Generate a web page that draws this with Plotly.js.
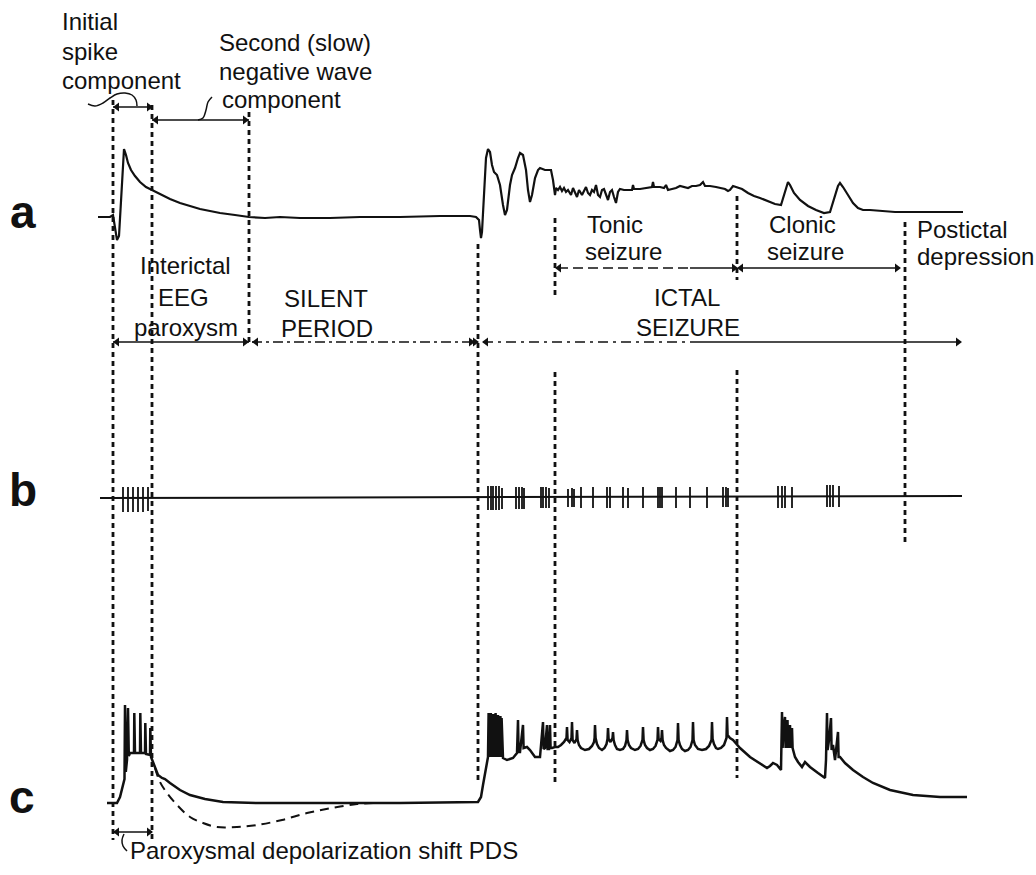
<!DOCTYPE html>
<html>
<head>
<meta charset="utf-8">
<script src="https://cdn.plot.ly/plotly-3.0.1.min.js"></script>
<style>html,body{margin:0;padding:0;background:#fff;}#chart{width:1036px;height:875px;}</style>
</head>
<body>
<div id="chart"></div>
<script>
// ---- Trace a (EEG) ----
const aX = [98,110,113,114,116,117,119,121,123,124,126,128,131,135,140,146,152,160,170,180,190,200,210,220,235,249,265,280,300,330,360,400,440,470,476,
479,480,481,482,484,486,488,490,492,494,497,500,503,505,507,510,512,515,518,520,523,526,528,530,532,535,538,540,545,551,553,555,556,558,560,562,564,566,568,571,573,575,577,579,582,584,586,588,590,592,594,596,598,600,602,604,606,608,610,612,614,616,618,620,624,628,632,633,634,640,646,652,653,654,660,664,666,668,672,676,680,684,688,692,696,700,703,705,710,716,720,725,728,730,733,737,742,748,754,760,767,775,781,784,788,790,794,800,808,816,824,830,834,838,840,843,848,853,858,863,870,880,895,910,940,963];
const aY = [217,217,215,222,238,240,236,200,160,149,155,163,170,176,182,187,190,194,199,203,206,209,211,213,215,217,218,217,218,218,217,217,216,216,217,
220,230,238,232,190,158,149,152,165,172,175,185,205,215,210,185,175,168,158,153,155,170,190,202,195,178,170,168,170,170,180,195,188,190,187,191,188,192,190,195,188,192,197,190,195,191,187,193,195,190,192,185,195,197,190,189,194,200,192,190,197,203,192,189,190,190,190,185,189,189,188,187,182,187,187,188,185,190,189,188,186,187,188,186,186,185,182,186,186,187,188,189,191,190,186,187,189,193,196,198,201,204,205,196,182,185,193,200,206,210,213,212,200,186,183,187,195,203,208,210,210,211,212,212,212,212];

// ---- Trace b (unit firing) ----
const bBaseX = [100, 962];
const bBaseY = [498, 496];
const bSpikeX = [123,128,133,138,143,148,
  488,491,493,496,499,502, 516,519,522,524, 541,543,546,549,
  568,572,574,581,593,607,610,623,628,643,658,660,662,676,690,707,723,726,728,
  778,782,785,792, 827,830,833,839];
const bSpikeTop = [487,487,487,487,487,487,
  486,486,486,486,486,488, 487,487,487,488, 487,487,487,488,
  489,488,489,487,487,487,487,487,488,487,487,487,487,487,487,487,487,487,488,
  486,486,486,487, 485,485,485,486];
const bSpikeBot = [512,512,512,512,512,511,
  510,510,510,510,510,509, 509,509,509,509, 508,508,508,508,
  507,507,507,508,508,508,508,508,508,508,508,508,508,508,508,508,507,507,507,
  508,508,508,508, 507,507,507,507];

// ---- Trace c (intracellular) ----
const cX = [107,117,120,123,124.5,125,125.8,127,128,128.8,130,134,134.3,135,140,140.3,141,145,145.3,146,150,150.3,151,153,155,158,162,165,170,180,190,205,223,257,300,400,478,
481,483,485,487,488,488.6,489,489.6,490.2,490.8,491.4,492,492.6,493.2,493.8,494.4,495,495.6,496.2,496.8,497.4,498,498.6,499.2,499.8,500.4,501,501.6,503,507,513,517,518,518.6,520,523,523.6,527,530,535,540,543,543.6,545,547,547.6,549,550,550.6,552,555,558,
561,564,566.5,567,567.6,569.5,571.5,572,572.6,574.5,576.5,577,577.6,579,581,585,589,592,594,594.6,595,595.6,597,599,602,604.5,606.5,607.5,608,608.6,610.5,612.5,613,613.6,615,617,620,623,625,626.5,627,627.6,629,631,635,638,640.5,642.5,643,643.6,645,647,650,653,655.5,657.5,658,658.6,660.5,661.5,662,662.6,664,666,670,673,675.5,677.5,678,678.6,680,682,685,688,690.5,692.5,693,693.6,695,698,702,706,709,711.5,712,712.6,714,716,718,721,724,726.5,727,727.6,730,733,737,740,750,760,
767,770,773,777,781,782,782.6,783.5,785,785.6,786.5,787.5,788.1,789,790,790.6,791.5,792,792.6,795,798,802,805,810,818,825,826,827,827.6,829,831,831.6,833,835,838,838.6,840,845,853,863,873,890,913,940,967];
const cY = [803,803,797,785,779,705,772,760,708,756,753,753,713,753,753,713,753,753,723,754,755,728,757,762,768,775,778,779,783,790,795,799,802,803,803,803,802,
797,785,772,762,757,713,757,716,757,713,757,718,757,714,757,716,757,713,757,718,757,715,757,720,757,716,757,718,758,760,758,753,720,752,752,725,748,747,750,757,757,722,749,748,725,749,749,725,748,748,747,747,
745,742,738,727,740,742,738,722,740,743,739,730,740,745,748,750,749,746,742,738,725,738,744,748,750,748,744,739,728,739,742,738,732,740,745,749,750,749,746,740,730,740,745,748,750,749,746,740,727,740,745,748,750,749,746,740,727,739,741,738,730,740,745,748,751,750,747,740,723,740,745,749,751,750,747,740,722,740,745,749,750,749,746,740,722,739,744,748,749,748,745,738,717,735,738,740,745,748,757,763,
768,766,763,765,770,712,748,730,717,748,735,720,748,738,725,748,733,728,748,757,762,767,762,767,773,778,760,713,750,740,718,750,745,760,732,757,757,763,770,777,783,790,795,797,797];
const cDashX = [155,160,167,178,190,203,217,237,257,282,307,332,357,377];
const cDashY = [768,782,793,806,817,823,827,827,825,820,813,808,804,803];

// ---- vertical dashed time markers (segments) ----
const vlX   = [113,152,249,478,555,555,737,737,905];
const vlTop = [100,105,112,244,218,372,196,370,222];
const vlBot = [840,840,342,780,298,782,280,778,545];

// ---- bracket lines ----
const brX = [[113,152],[152,249],[113,249],[252,475],[483,690],[690,958],[558,690],[690,734],[740,898],[113,152]];
const brY = [[107,107],[120,120],[342,342],[342,342],[342,342],[342,342],[268,268],[268,268],[268,268],[832,832]];
const brDash = ['solid','solid','solid','10px,4px,3px,4px','10px,5px,3px,5px','solid','10px,5px','solid','solid','solid'];
// arrowheads
const arX   = [117,149,156,245,117,245,256,471,475,486,958,559,734,741,897,117,149];
const arY   = [107,107,120,120,342,342,342,342,342,342,342,268,268,268,268,832,832];
const arSym = ['triangle-left','triangle-right','triangle-left','triangle-right','triangle-left','triangle-right','triangle-left','triangle-right','triangle-right','triangle-left','triangle-right','triangle-left','triangle-right','triangle-left','triangle-right','triangle-left','triangle-right'];
// connectors from labels to brackets
const con1X = [88,95,103,110,117,125,132,136,137];
const con1Y = [104,106,103,98,94,93,95,100,106];
const con2X = [198,203,206,208,212];
const con2Y = [120,118,110,102,97];
const con3X = [124,122,123,127];
const con3Y = [834,840,846,851];

// ---- labels ----
const labText = ['Initial','spike','component','Second (slow)','negative wave','component',
  'Interictal','EEG','paroxysm','SILENT','PERIOD','ICTAL','SEIZURE',
  'Tonic','seizure','Clonic','seizure','Postictal','depression',
  'Paroxysmal depolarization shift PDS'];
const labX = [60,60,60,217,217,220, 185,183,186, 326,327, 687,688, 585,583, 767,765, 915,915, 128];
const labY = [21,51,80,42,71,99, 265,297,327, 298,328, 297,327, 224,251, 224,251, 229,256, 850];
const labAnchor = ['left','left','left','left','left','left','center','center','center','center','center','center','center','left','left','left','left','left','left','left'];
const panelText = ['a','b','c'];
const panelX = [23,23,22];
const panelY = [212,490,797];

const FONT = 'Liberation Sans, Arial, Helvetica, sans-serif';
const traces = [];
const blk = '#111';

traces.push({x:aX, y:aY, mode:'lines', line:{color:blk, width:2.2}, hoverinfo:'skip'});
traces.push({x:bBaseX, y:bBaseY, mode:'lines', line:{color:blk, width:2}, hoverinfo:'skip'});
const sx=[], sy=[];
bSpikeX.forEach((v,i)=>{ sx.push(v,v,null); sy.push(bSpikeTop[i], bSpikeBot[i], null); });
traces.push({x:sx, y:sy, mode:'lines', line:{color:blk, width:1.8}, hoverinfo:'skip'});
traces.push({x:cX, y:cY, mode:'lines', line:{color:blk, width:2.5}, hoverinfo:'skip'});
traces.push({x:cDashX, y:cDashY, mode:'lines', line:{color:blk, width:2, dash:'9px,6px', shape:'spline'}, hoverinfo:'skip'});
const vx=[], vy=[];
vlX.forEach((v,i)=>{ vx.push(v,v,null); vy.push(vlTop[i], vlBot[i], null); });
traces.push({x:vx, y:vy, mode:'lines', line:{color:blk, width:2.8, dash:'5px,4px'}, hoverinfo:'skip'});
brX.forEach((bx,i)=>{
  traces.push({x:bx, y:brY[i], mode:'lines', line:{color:blk, width:1.7, dash:brDash[i]}, hoverinfo:'skip'});
});
traces.push({x:arX, y:arY, mode:'markers', marker:{color:blk, size:8, symbol:arSym}, hoverinfo:'skip'});
[[con1X,con1Y],[con2X,con2Y],[con3X,con3Y]].forEach(c=>{
  traces.push({x:c[0], y:c[1], mode:'lines', line:{color:blk, width:1.5, shape:'spline'}, hoverinfo:'skip'});
});

const annotations = labText.map((t,i)=>({
  x:labX[i], y:labY[i], xref:'x', yref:'y', text:t, showarrow:false,
  xanchor:labAnchor[i], yanchor:'middle', font:{family:FONT, size:24, color:blk}
}));
panelText.forEach((t,i)=>annotations.push({
  x:panelX[i], y:panelY[i], xref:'x', yref:'y', text:'<b>'+t+'</b>', showarrow:false,
  xanchor:'center', yanchor:'middle', font:{family:FONT, size:46, color:blk}
}));

const layout = {
  width:1036, height:875, margin:{l:0,r:0,t:0,b:0},
  paper_bgcolor:'#fff', plot_bgcolor:'#fff', showlegend:false,
  xaxis:{range:[0,1036], visible:false, fixedrange:true},
  yaxis:{range:[875,0], visible:false, fixedrange:true},
  annotations:annotations
};
Plotly.newPlot('chart', traces, layout, {staticPlot:true, displayModeBar:false});
</script>
</body>
</html>
